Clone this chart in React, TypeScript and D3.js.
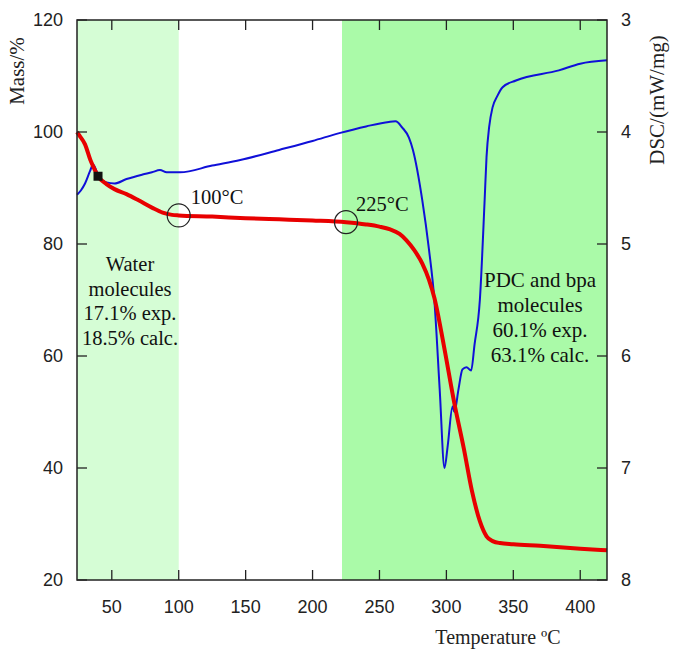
import React from "react";
import * as d3 from "d3";

const massTemp = [24, 26, 30, 34, 36, 40, 46, 52, 61, 70, 80, 88, 95, 100, 125, 150, 175, 200, 225, 240, 250, 258, 265, 270, 276, 282, 287, 291, 298, 306, 313, 319, 325, 330, 335, 340, 350, 370, 400, 420];
const massVal = [100, 99.3, 97.8, 95, 93.9, 92, 90.7, 89.8, 88.9, 87.8, 86.5, 85.6, 85.2, 85.1, 84.9, 84.6, 84.4, 84.2, 83.9, 83.5, 83.1, 82.6, 81.8, 80.7, 78.9, 76.5, 73.6, 70.4, 62, 51.5, 43.5, 36, 30.5, 27.8, 26.9, 26.6, 26.4, 26.1, 25.6, 25.3];

const dscTemp = [24, 27, 30, 33.7, 36, 39.7, 42.7, 46, 52, 61, 73, 80, 86, 91, 101, 125, 146, 175, 200, 220, 240, 257, 262, 267, 272, 275, 282, 287, 291, 295, 298.6, 301, 304.6, 306, 309, 312, 315, 318.5, 321, 325, 328.6, 330, 332, 334.5, 338, 342, 352, 384, 400, 420];
const dscVal = [4.56, 4.52, 4.46, 4.35, 4.29, 4.38, 4.43, 4.45, 4.46, 4.42, 4.38, 4.36, 4.34, 4.36, 4.36, 4.3, 4.25, 4.16, 4.08, 4.01, 3.95, 3.91, 3.905, 3.96, 4.05, 4.16, 4.61, 5.05, 5.5, 6.3, 7.0, 6.8, 6.45, 6.5, 6.3, 6.12, 6.1, 6.13, 5.9, 5.5, 4.6, 4.22, 3.95, 3.78, 3.68, 3.6, 3.54, 3.45, 3.39, 3.36];

const xTicks = [50, 100, 150, 200, 250, 300, 350, 400];
const massTicks = [20, 40, 60, 80, 100, 120];
const dscTicks = [3, 4, 5, 6, 7, 8];

const waterRegion = [24, 100];
const pdcRegion = [222, 420];
const circleTemps = [100, 225];
const circleLabels = ["100°C", "225°C"];
const markerPoint = [39.7, 92.1];
const waterText = ["Water", "molecules", "17.1% exp.", "18.5% calc."];
const pdcText = ["PDC and bpa", "molecules", "60.1% exp.", "63.1% calc."];

const W = 673, H = 649;
const L = 77, R = 607, T = 20, B = 580;

export default function App() {
  const x = d3.scaleLinear().domain([24, 420]).range([L, R]);
  const y = d3.scaleLinear().domain([20, 120]).range([B, T]);
  const y2 = d3.scaleLinear().domain([3, 8]).range([T, B]);

  const massData = massTemp.map((t, i) => [t, massVal[i]] as [number, number]);
  const dscData = dscTemp.map((t, i) => [t, dscVal[i]] as [number, number]);

  const massLine = d3.line<[number, number]>().x(d => x(d[0])).y(d => y(d[1])).curve(d3.curveMonotoneX)(massData) || "";
  const dscLine = d3.line<[number, number]>().x(d => x(d[0])).y(d => y2(d[1])).curve(d3.curveMonotoneX)(dscData) || "";

  const massAt = (t: number) => {
    const i = d3.bisectLeft(massTemp, t);
    if (massTemp[i] === t) return massVal[i];
    const t0 = massTemp[i - 1], t1 = massTemp[i];
    return massVal[i - 1] + (massVal[i] - massVal[i - 1]) * (t - t0) / (t1 - t0);
  };

  const sans = "'Liberation Sans', Arial, sans-serif";
  const serif = "'Liberation Serif', 'Times New Roman', serif";
  const tick = 10;

  return (
    <svg width={W} height={H} style={{ position: "absolute", left: 0, top: 0, background: "#fff" }}>
      <rect x={x(waterRegion[0])} y={T} width={x(waterRegion[1]) - x(waterRegion[0])} height={B - T} fill="#d5fdd5" />
      <rect x={x(pdcRegion[0])} y={T} width={x(pdcRegion[1]) - x(pdcRegion[0])} height={B - T} fill="#aafaa8" />

      <path d={dscLine} fill="none" stroke="#1010d8" strokeWidth={2} />
      <path d={massLine} fill="none" stroke="#e80000" strokeWidth={4} strokeLinejoin="round" />
      <rect x={x(markerPoint[0]) - 4.5} y={y(markerPoint[1]) - 4.5} width={9} height={9} fill="#111" />

      {circleTemps.map((t, i) => (
        <g key={i}>
          <circle cx={x(t)} cy={y(massAt(t))} r={11.5} fill="none" stroke="#222" strokeWidth={1.2} />
        </g>
      ))}
      <text x={x(circleTemps[0]) + 12} y={y(massAt(circleTemps[0])) - 11} fontFamily={serif} fontSize={20.5} fill="#111">{circleLabels[0]}</text>
      <text x={x(circleTemps[1]) + 10} y={y(massAt(circleTemps[1])) - 11} fontFamily={serif} fontSize={20.5} fill="#111">{circleLabels[1]}</text>

      {waterText.map((s, i) => (
        <text key={i} x={130} y={271 + i * 24.5} textAnchor="middle" fontFamily={serif} fontSize={20.5} fill="#111">{s}</text>
      ))}
      {pdcText.map((s, i) => (
        <text key={i} x={540} y={287 + i * 25} textAnchor="middle" fontFamily={serif} fontSize={21} fill="#111">{s}</text>
      ))}

      <rect x={L} y={T} width={R - L} height={B - T} fill="none" stroke="#222" strokeWidth={1.5} />

      {xTicks.map(t => (
        <g key={t}>
          <line x1={x(t)} x2={x(t)} y1={B} y2={B - tick} stroke="#222" strokeWidth={1.3} />
          <line x1={x(t)} x2={x(t)} y1={T} y2={T + tick} stroke="#222" strokeWidth={1.3} />
          <text x={x(t)} y={613} textAnchor="middle" fontFamily={sans} fontSize={18} fill="#222">{t}</text>
        </g>
      ))}
      {massTicks.map(t => (
        <g key={t}>
          <line x1={L} x2={L + tick} y1={y(t)} y2={y(t)} stroke="#222" strokeWidth={1.3} />
          <text x={63} y={y(t)} dy="0.35em" textAnchor="end" fontFamily={sans} fontSize={18} fill="#222">{t}</text>
        </g>
      ))}
      {dscTicks.map(t => (
        <g key={t}>
          <line x1={R} x2={R - tick} y1={y2(t)} y2={y2(t)} stroke="#222" strokeWidth={1.3} />
          <text x={621} y={y2(t)} dy="0.35em" textAnchor="start" fontFamily={sans} fontSize={18} fill="#222">{t}</text>
        </g>
      ))}

      <text transform={`translate(24,71) rotate(-90)`} textAnchor="middle" fontFamily={serif} fontSize={21} fill="#222">Mass/%</text>
      <text transform={`translate(664,100) rotate(-90)`} textAnchor="middle" fontFamily={serif} fontSize={21} fill="#222">DSC/(mW/mg)</text>
      <text x={498} y={644} textAnchor="middle" fontFamily={serif} fontSize={20} fill="#222">Temperature ºC</text>
    </svg>
  );
}
